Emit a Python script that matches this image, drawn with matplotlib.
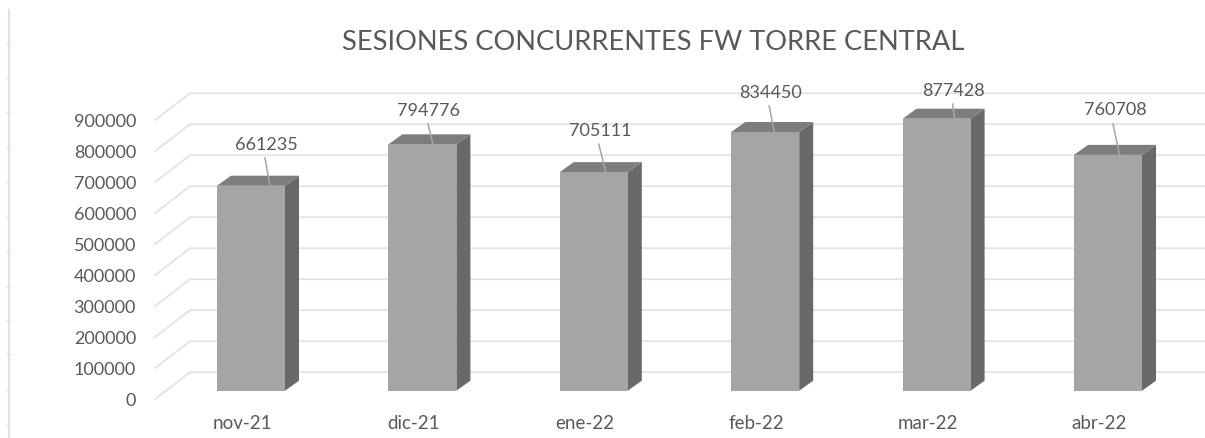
import matplotlib
matplotlib.use("Agg")
import matplotlib.pyplot as plt
from matplotlib.patches import Polygon

months = ["nov-21", "dic-21", "ene-22", "feb-22", "mar-22", "abr-22"]
sessions = [661235, 794776, 705111, 834450, 877428, 760708]
y_ticks = [0, 100000, 200000, 300000, 400000, 500000, 600000, 700000, 800000, 900000]
title = "SESIONES CONCURRENTES FW TORRE CENTRAL"

W, H = 1205, 439
PX_PER_UNIT = 31.0 / 100000
BASE_PX = 391.7
X0_PX, STEP_PX = 251.0, 171.4
BAR_W = 68 / STEP_PX
DX = 14 / STEP_PX
DY = 10 / PX_PER_UNIT

# label placement relative to each bar, in px
label_dx = [15, 5.6, 6, 5, 16.4, 7]
label_dy = [43.7, 36.8, 44, 42.3, 30.4, 47.6]
lead_start_dx = [14, 5.6, 5, 4, 16, 5]
lead_start_dy = [27.7, 20.3, 28, 26, 14.7, 31]
lead_end_dx = [19, 10.6, 12, 9, 18, 11.5]

plt.rcParams["font.family"] = ["Lato", "DejaVu Sans"]
fig = plt.figure(figsize=(W / 100, H / 100), dpi=100)
ax = fig.add_axes([0, 0, 1, 1])
ax.set_xlim(-X0_PX / STEP_PX, (W - X0_PX) / STEP_PX)
ax.set_ylim(-(H - BASE_PX) / PX_PER_UNIT, BASE_PX / PX_PER_UNIT)
ax.axis("off")

ux, uy = 1 / STEP_PX, 1 / PX_PER_UNIT
TXT = "#595959"
GRID = "#E3E3E3"
RULE = "#E0E0E0"
TEXT_SHIFT = 2.0  # px: Lato's vertical centre sits slightly high

# outer left rule with small tick marks
ax.plot([(9.5 - X0_PX) * ux] * 2, [-(H - BASE_PX) * uy, (BASE_PX - 11) * uy], color=RULE, lw=1.5, zorder=1)
for py in [44, 79, 113, 148, 183, 218, 253, 288, 321, 355, 391, 426]:
    yv = (BASE_PX - py) * uy
    ax.plot([(7 - X0_PX) * ux, (10 - X0_PX) * ux], [yv, yv], color=RULE, lw=1, zorder=1)

# gridlines: side diagonal and back wall
for v in y_ticks:
    xa, ya = (155 - X0_PX) * ux, v - 8.5 * uy
    xb, yb = (190 - X0_PX) * ux, v + 18.5 * uy
    xc = (W - X0_PX) * ux
    ax.plot([xa, xb, xc], [ya, yb, yb], color=GRID, lw=1.3, solid_joinstyle="miter", zorder=1)
    ax.text((136 - X0_PX) * ux, v - 9 * uy, str(v), ha="right", va="center", fontsize=13, color=TXT)

# bars
for i, (m, v) in enumerate(zip(months, sessions)):
    l, r = i - BAR_W / 2, i + BAR_W / 2
    ax.add_patch(Polygon([(r, 0), (r + DX, DY), (r + DX, v + DY), (r, v)], fc="#696969", ec="none", zorder=3))
    ax.add_patch(Polygon([(l, v), (l + DX, v + DY), (r + DX, v + DY), (r, v)], fc="#7D7D7D", ec="none", zorder=3))
    ax.bar(i, v, width=BAR_W, color="#A5A5A5", zorder=4)
    ax.plot([i + lead_start_dx[i] * ux, i + lead_end_dx[i] * ux], [v + lead_start_dy[i] * uy, v],
            color="#A6A6A6", lw=1.1, zorder=5)
    ax.text(i + label_dx[i] * ux, v + (label_dy[i] - TEXT_SHIFT) * uy, str(v), ha="center", va="center",
            fontsize=13, color=TXT, zorder=6)
    ax.text(i - 9 * ux, -32 * uy, m, ha="center", va="center", fontsize=13.5, color=TXT)

ax.text((653 - X0_PX) * ux, (BASE_PX - 40 - 2.5) * uy, title, ha="center", va="center", fontsize=19.6, color=TXT)
fig.savefig("out.png", dpi=100)
